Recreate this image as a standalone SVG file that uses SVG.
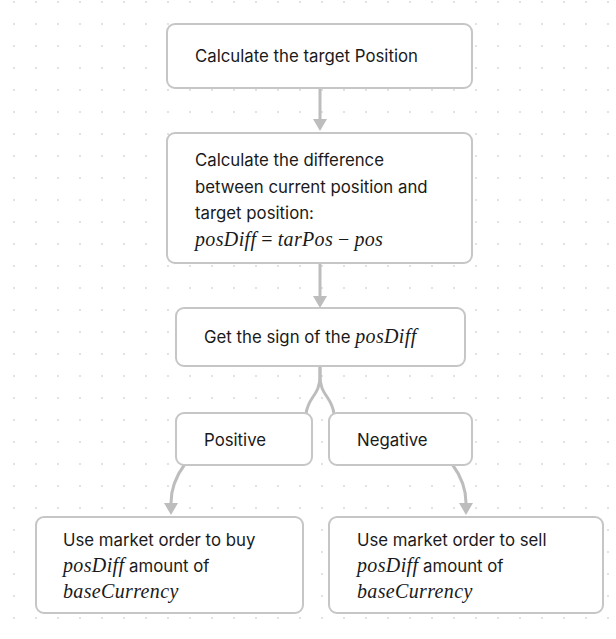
<svg xmlns="http://www.w3.org/2000/svg" width="616" height="639" viewBox="0 0 616 639">
<defs>
<pattern id="dots" x="0" y="0" width="22" height="22" patternUnits="userSpaceOnUse">
<rect x="13" y="1" width="2" height="2" fill="#e2e2e2"/>
</pattern>
</defs>
<style>
.box{fill:#fff;stroke:#c6c6c6;stroke-width:2}
.t{font-family:Inter,"Liberation Sans",sans-serif;font-size:16.8px;fill:#1a1a1a}
.m{font-family:"Liberation Serif","DejaVu Serif",serif;font-size:20px;font-style:italic;letter-spacing:0.35px;font-variant-ligatures:none}
.mo{font-family:"Liberation Serif","DejaVu Serif",serif;font-size:20px;font-style:normal}
.c{fill:none;stroke:#bdbdbd;stroke-width:3}
.ah{fill:#bdbdbd}
</style>
<rect width="616" height="639" fill="#fff"/>
<rect width="616" height="639" fill="url(#dots)"/>
<g id="connectors">
<path class="c" d="M320,88 L320,119"/>
<path class="ah" d="M313,119 L327,119 L320,131 Z"/>
<path class="c" d="M320,263 L320,296"/>
<path class="ah" d="M313,296 L327,296 L320,308 Z"/>
<path class="c" d="M320,366 L320,376 C320,396 308,396 306,414"/>
<path class="c" d="M320,366 L320,376 C320,396 332,396 334,414"/>
<path class="c" d="M185,464 C176,476 171,488 171,503"/>
<path class="ah" d="M164,503 L178,503 L171,515 Z"/>
<path class="c" d="M452,464 C461,476 466,488 466,503"/>
<path class="ah" d="M459,503 L473,503 L466,515 Z"/>
</g>
<g id="n1">
<rect class="box" x="167" y="24" width="305" height="64" rx="8"/>
<text class="t" x="195" y="62">Calculate the target Position</text>
</g>
<g id="n2">
<rect class="box" x="167" y="133" width="305" height="130" rx="8"/>
<text class="t" x="195" y="166">Calculate the difference</text>
<text class="t" x="195" y="193">between current position and</text>
<text class="t" x="195" y="219">target position:</text>
<text class="t" x="195" y="246"><tspan class="m">posDiff</tspan><tspan class="mo"> = </tspan><tspan class="m">tarPos</tspan><tspan class="mo"> − </tspan><tspan class="m">pos</tspan></text>
</g>
<g id="n3">
<rect class="box" x="176" y="308" width="289" height="58" rx="8"/>
<text class="t" x="204" y="343">Get the sign of the <tspan class="m">posDiff</tspan></text>
</g>
<g id="pos">
<rect class="box" x="176" y="413" width="136" height="52" rx="8"/>
<text class="t" x="204" y="446">Positive</text>
</g>
<g id="neg">
<rect class="box" x="329" y="413" width="143" height="52" rx="8"/>
<text class="t" x="357" y="446">Negative</text>
</g>
<g id="buy">
<rect class="box" x="36" y="517" width="267" height="96" rx="8"/>
<text class="t" x="63" y="546">Use market order to buy</text>
<text class="t" x="63" y="572"><tspan class="m">posDiff</tspan> amount of</text>
<text class="t" x="63" y="598"><tspan class="m">baseCurrency</tspan></text>
</g>
<g id="sell">
<rect class="box" x="329" y="517" width="274" height="96" rx="8"/>
<text class="t" x="357" y="546">Use market order to sell</text>
<text class="t" x="357" y="572"><tspan class="m">posDiff</tspan> amount of</text>
<text class="t" x="357" y="598"><tspan class="m">baseCurrency</tspan></text>
</g>
</svg>
